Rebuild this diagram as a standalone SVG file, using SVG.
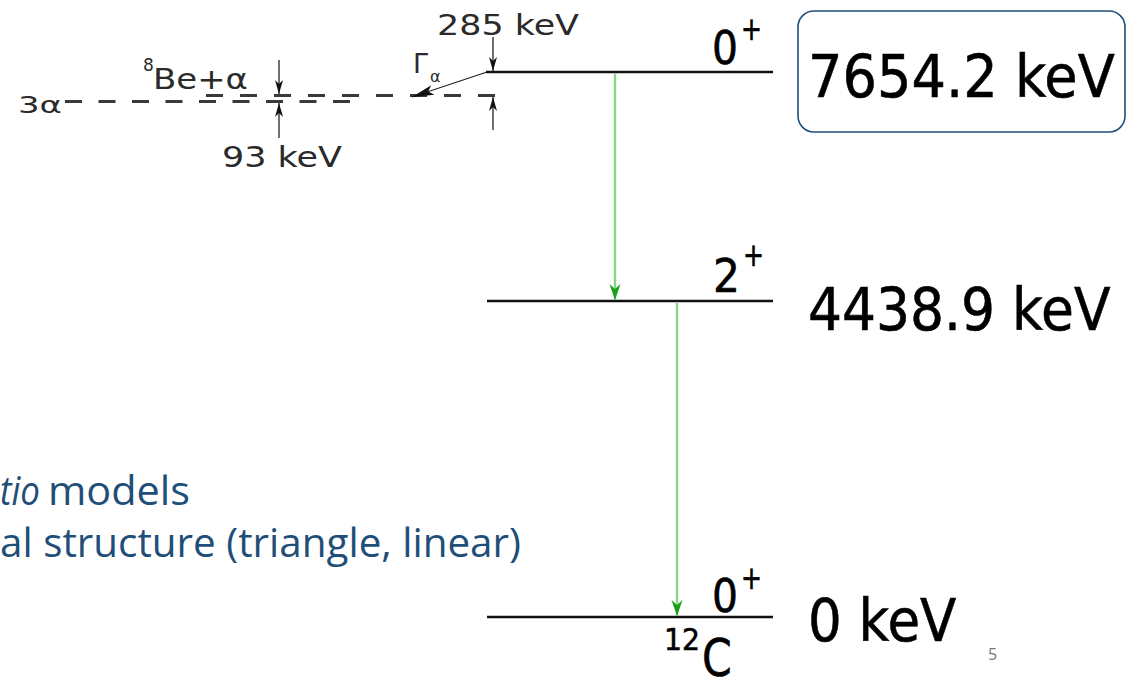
<svg xmlns="http://www.w3.org/2000/svg" width="1128" height="688" viewBox="0 0 1128 688">
<style>
.lvl{stroke:#111;stroke-width:2.5;fill:none}
.dash{stroke:#3a3a3a;stroke-width:2.8;fill:none}
.thin{stroke:#222;stroke-width:1.3;fill:none}
.gam{stroke:#86d686;stroke-width:2.4;fill:none}
.sm{font-family:"DejaVu Sans",sans-serif;fill:#2a2a2a}
.big{font-family:"DejaVu Sans",sans-serif;fill:#000;stroke:#000;stroke-width:0.6}
.blue{font-family:"Open Sans","Liberation Sans",sans-serif;fill:#1f4e79;font-size:40px}
</style>
<defs>
<marker id="ak" viewBox="-15 -5 15 10" refX="0" refY="0" markerWidth="15" markerHeight="10" orient="auto" markerUnits="userSpaceOnUse">
<path d="M0,0 L-14,-4 L-10,0 L-14,4 Z" fill="#111"/>
</marker>
<marker id="ag" viewBox="-17 -6 17 12" refX="0" refY="0" markerWidth="17" markerHeight="12" orient="auto" markerUnits="userSpaceOnUse">
<path d="M0,0 L-16,-5.5 L-11,0 L-16,5.5 Z" fill="#18a018"/>
</marker>
<marker id="aw" viewBox="-23 -6 23 12" refX="0" refY="0" markerWidth="23" markerHeight="12" orient="auto" markerUnits="userSpaceOnUse">
<path d="M0,0 L-22,-5 L-17,0 L-22,5 Z" fill="#111"/>
</marker>
</defs>

<g id="level-7654">
<line class="lvl" x1="486" y1="72" x2="773" y2="72"/>
<text class="big" x="712" y="64" font-size="46" textLength="26" lengthAdjust="spacingAndGlyphs">0</text>
<text class="big" x="741" y="40" font-size="32" textLength="21" lengthAdjust="spacingAndGlyphs">+</text>
<rect x="798" y="11" width="327" height="121" rx="16" fill="none" stroke="#1f4e79" stroke-width="1.6"/>
<text class="big" transform="translate(808,97) scale(0.935,1)" x="0" y="0" font-size="58">7654.2 keV</text>
</g>

<g id="level-4438">
<line class="lvl" x1="487" y1="301" x2="773" y2="301"/>
<text class="big" x="713" y="292" font-size="46" textLength="27" lengthAdjust="spacingAndGlyphs">2</text>
<text class="big" x="743" y="266" font-size="32" textLength="21" lengthAdjust="spacingAndGlyphs">+</text>
<text class="big" transform="translate(808,330) scale(0.922,1)" x="0" y="0" font-size="58">4438.9 keV</text>
</g>

<g id="level-0">
<line class="lvl" x1="487" y1="617" x2="773" y2="617"/>
<text class="big" x="712" y="612" font-size="46" textLength="26" lengthAdjust="spacingAndGlyphs">0</text>
<text class="big" x="741" y="589" font-size="32" textLength="21" lengthAdjust="spacingAndGlyphs">+</text>
<text class="big" transform="translate(808,641) scale(0.915,1)" x="0" y="0" font-size="58">0 keV</text>
<text class="big" x="664" y="650" font-size="30" textLength="36" lengthAdjust="spacingAndGlyphs" stroke-width="0.3">12</text>
<text class="big" transform="translate(702,676) scale(0.82,1)" x="0" y="0" font-size="52" stroke-width="0.3">C</text>
</g>

<g id="thresholds">
<line class="dash" x1="65" y1="101.5" x2="352" y2="101.5" stroke-dasharray="17 16.5"/>
<line class="dash" x1="206" y1="95.5" x2="497" y2="95.5" stroke-dasharray="17 17"/>
<text class="sm" x="18" y="113" font-size="23" textLength="44" lengthAdjust="spacingAndGlyphs">3α</text>
<text class="sm" x="143" y="71" font-size="17">8</text>
<text class="sm" x="153" y="89" font-size="29" textLength="95" lengthAdjust="spacingAndGlyphs">Be+α</text>
<text class="sm" x="222" y="167" font-size="29" textLength="120" lengthAdjust="spacingAndGlyphs">93 keV</text>
<text class="sm" x="437" y="35" font-size="28" textLength="142" lengthAdjust="spacingAndGlyphs">285 keV</text>
<text class="sm" x="413" y="73" font-size="27">Γ</text>
<text class="sm" x="430" y="82" font-size="16">α</text>
</g>

<g id="connectors">
<line class="gam" x1="615" y1="74" x2="615" y2="300" marker-end="url(#ag)"/>
<line class="gam" x1="677" y1="303" x2="677" y2="616" marker-end="url(#ag)"/>
<line class="thin" x1="487" y1="72" x2="412" y2="97" marker-end="url(#aw)"/>
<line class="thin" x1="279" y1="60" x2="279" y2="94" marker-end="url(#ak)"/>
<line class="thin" x1="279" y1="138" x2="279" y2="103" marker-end="url(#ak)"/>
<line class="thin" x1="493" y1="37" x2="493" y2="71" marker-end="url(#ak)"/>
<line class="thin" x1="493" y1="130" x2="493" y2="97" marker-end="url(#ak)"/>
</g>

<g id="bullets">
<text class="blue" x="0" y="505" font-style="italic" textLength="40" lengthAdjust="spacingAndGlyphs">tio</text>
<text class="blue" x="48" y="505" textLength="142" lengthAdjust="spacingAndGlyphs">models</text>
<text class="blue" x="0" y="557" textLength="521" lengthAdjust="spacingAndGlyphs">al structure (triangle, linear)</text>
</g>

<text x="988" y="660" font-family="Open Sans, sans-serif" font-size="16" fill="#777">5</text>
</svg>
